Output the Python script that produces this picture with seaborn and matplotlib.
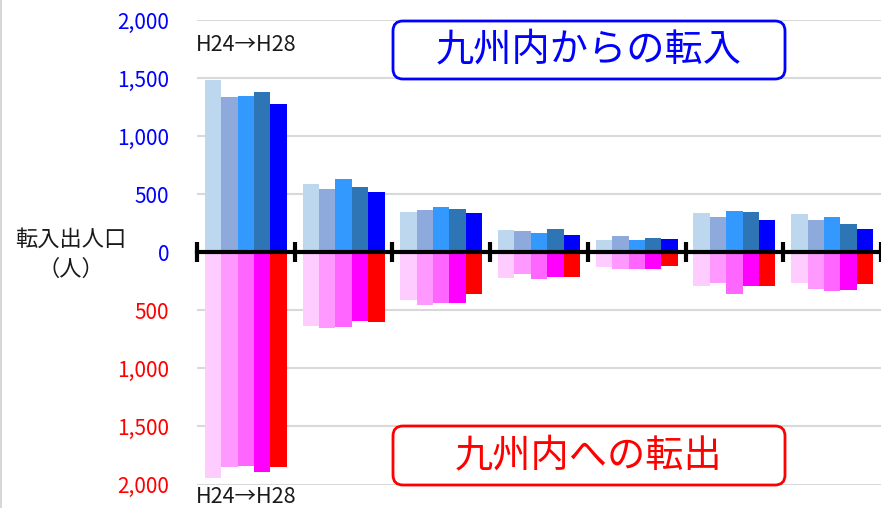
import matplotlib
matplotlib.use("Agg")
import matplotlib.pyplot as plt
from matplotlib.patches import FancyBboxPatch
from matplotlib.lines import Line2D
from matplotlib.ticker import FuncFormatter
import seaborn as sns
import pandas as pd

# Origin / destination areas (not labelled on the axis)
areas = ["福岡", "佐賀", "長崎", "熊本", "大分", "宮崎", "鹿児島"]
years = ["H24", "H25", "H26", "H27", "H28"]

# Move-ins from within Kyushu (persons), per area, H24..H28
move_in = [
    [1484, 1337, 1348, 1380, 1277],
    [588, 546, 627, 560, 515],
    [343, 360, 390, 372, 340],
    [194, 183, 168, 200, 151],
    [109, 144, 108, 127, 110],
    [340, 306, 358, 349, 274],
    [332, 280, 306, 242, 203],
]
# Move-outs to within Kyushu (persons), per area, H24..H28
move_out = [
    [1941, 1849, 1841, 1890, 1849],
    [631, 653, 648, 590, 599],
    [412, 455, 438, 435, 360],
    [226, 188, 228, 217, 217],
    [131, 142, 140, 140, 119],
    [289, 269, 358, 289, 289],
    [266, 315, 335, 323, 272],
]

in_colors = ["#BDD7EE", "#8EA9DB", "#3399FF", "#2E75B6", "#0000FF"]
out_colors = ["#FFCCFF", "#FF99FF", "#FF66FF", "#FF00FF", "#FF0000"]

y_ticks = [-2000, -1500, -1000, -500, 0, 500, 1000, 1500, 2000]

rows = []
for a, vin, vout in zip(areas, move_in, move_out):
    for y, i, o in zip(years, vin, vout):
        rows.append({"area": a, "year": y, "in": i, "out": -o})
df = pd.DataFrame(rows)

sns.set_theme(style="white")
plt.rcParams["font.family"] = ["Noto Sans CJK JP", "DejaVu Sans"]

fig = plt.figure(figsize=(8.81, 5.08), dpi=100)
ax = fig.add_axes([197 / 881, 1 - 484.5 / 508, 684 / 881, (484.5 - 20) / 508])

sns.barplot(data=df, x="area", y="in", hue="year", hue_order=years,
            palette=in_colors, width=0.84, linewidth=0, saturation=1,
            legend=False, ax=ax, zorder=2)
sns.barplot(data=df, x="area", y="out", hue="year", hue_order=years,
            palette=out_colors, width=0.84, linewidth=0, saturation=1,
            legend=False, ax=ax, zorder=2)

ax.set_xlim(-0.5, len(areas) - 0.5)
ax.set_ylim(-2000, 2000)
ax.set_xlabel("")
ax.set_ylabel("")

# Horizontal gridlines
ax.set_yticks(y_ticks)
ax.yaxis.grid(True, color="#D9D9D9", linewidth=1.5, zorder=0)
ax.set_axisbelow(True)
ax.yaxis.set_major_formatter(FuncFormatter(lambda v, p: f"{abs(int(v)):,}"))
ax.tick_params(axis="y", length=0, pad=20, labelsize=15)
for lbl, v in zip(ax.get_yticklabels(), y_ticks):
    lbl.set_color("#0000FF" if v >= 0 else "#FF0000")

# Category axis drawn along zero with ticks between groups
for s in ["top", "right", "left"]:
    ax.spines[s].set_visible(False)
ax.spines["bottom"].set_position(("data", 0))
ax.spines["bottom"].set_linewidth(3)
ax.spines["bottom"].set_color("black")
ax.spines["bottom"].set_zorder(3)
ax.set_xticks([k - 0.5 for k in range(len(areas) + 1)])
ax.set_xticklabels([])
ax.tick_params(axis="x", direction="inout", length=15, width=3,
               color="black", bottom=True)
for t in ax.xaxis.get_major_ticks():
    t.tick1line.set_clip_on(False)

# Axis caption
fig.text(71 / 881, 1 - 254 / 508, "転入出人口\n（人）", ha="center", va="center",
         fontsize=16, color="#1A1A1A", linespacing=1.4)

# Period notes
fig.text(196 / 881, 1 - 45 / 508, "H24→H28", ha="left", va="center",
         fontsize=15.5, color="#1A1A1A")
fig.text(196 / 881, 1 - 497 / 508, "H24→H28", ha="left", va="center",
         fontsize=15.5, color="#1A1A1A")

# Section headings in rounded boxes
def heading(text, color, x0, y0, w, h):
    box = FancyBboxPatch((x0 / 100, (508 - y0 - h) / 100), w / 100, h / 100,
                         boxstyle="round,pad=0,rounding_size=0.1",
                         transform=fig.dpi_scale_trans, facecolor="white",
                         edgecolor=color, linewidth=2, zorder=5)
    fig.patches.append(box)
    fig.text((x0 + w / 2) / 881, 1 - (y0 + h / 2) / 508, text, ha="center",
             va="center", fontsize=27.5, color=color, zorder=6)

heading("九州内からの転入", "#0000FF", 393, 21, 392, 58)
heading("九州内への転出", "#FF0000", 393, 426, 392, 59)

# Thin frame line on the left edge
fig.add_artist(Line2D([0.6 / 881, 0.6 / 881], [0, 1], transform=fig.transFigure,
                      color="#D0D0D0", linewidth=1.2))

fig.savefig("out.png", dpi=100)
